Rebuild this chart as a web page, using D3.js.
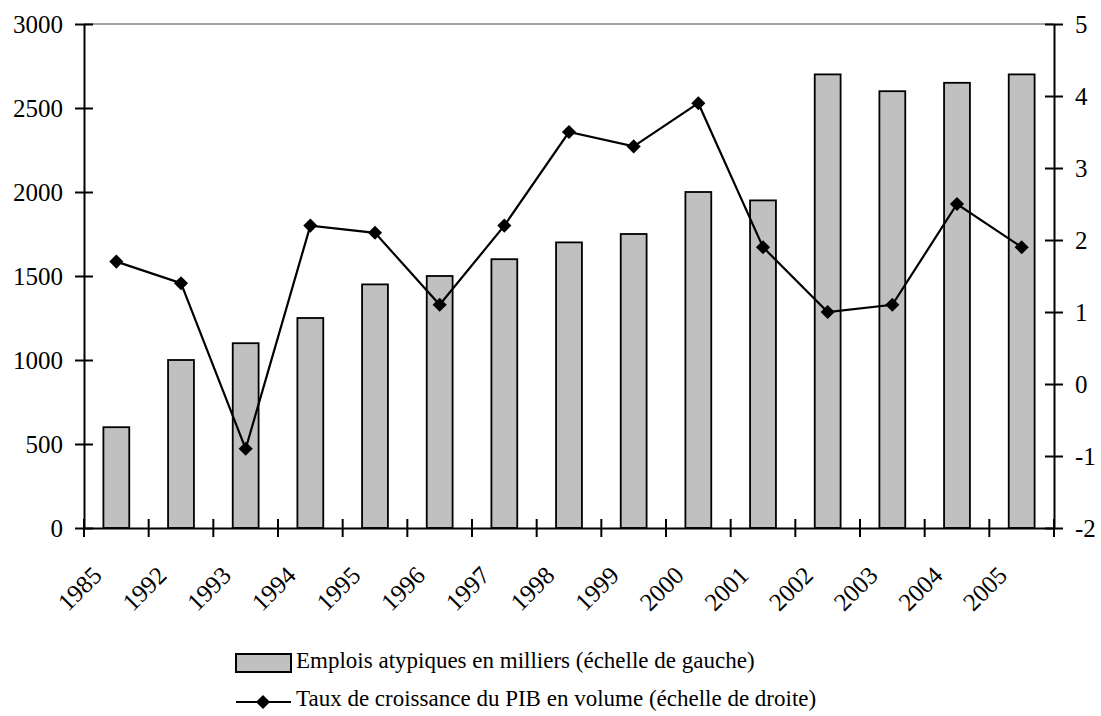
<!DOCTYPE html>
<html>
<head>
<meta charset="utf-8">
<script src="https://cdn.jsdelivr.net/npm/d3@7"></script>
<style>
  body { margin: 0; background: #fff; }
  text { font-family: "Liberation Serif", "Times New Roman", serif; fill: #000; }
</style>
</head>
<body>
<svg id="chart"></svg>
<script>
// years on the x axis
var years = ["1985", "1992", "1993", "1994", "1995", "1996", "1997", "1998",
             "1999", "2000", "2001", "2002", "2003", "2004", "2005"];
// emplois atypiques (milliers) - left scale
var emplois = [600, 1000, 1100, 1250, 1450, 1500, 1600, 1700,
               1750, 2000, 1950, 2700, 2600, 2650, 2700];
// croissance du PIB (%) - right scale
var pib = [1.7, 1.4, -0.9, 2.2, 2.1, 1.1, 2.2, 3.5,
           3.3, 3.9, 1.9, 1.0, 1.1, 2.5, 1.9];
var leftTicks = [0, 500, 1000, 1500, 2000, 2500, 3000];
var rightTicks = [-2, -1, 0, 1, 2, 3, 4, 5];
var legendLabels = ["Emplois atypiques en milliers (échelle de gauche)",
                    "Taux de croissance du PIB en volume (échelle de droite)"];

var w = 1101, h = 716;
var plotLeft = 84, plotRight = 1054, plotTop = 24, plotBottom = 528;

var svg = d3.select("#chart").attr("width", w).attr("height", h);
svg.append("rect").attr("width", w).attr("height", h).attr("fill", "#fff");

var x = d3.scaleBand().domain(years).range([plotLeft, plotRight])
    .paddingInner(0.6).paddingOuter(0.3);
var yLeft = d3.scaleLinear().domain([0, 3000]).range([plotBottom, plotTop]);
var yRight = d3.scaleLinear().domain([-2, 5]).range([plotBottom, plotTop]);

// top line (gridline at 3000)
svg.append("line")
    .attr("x1", plotLeft).attr("x2", plotRight)
    .attr("y1", yLeft(3000)).attr("y2", yLeft(3000))
    .attr("stroke", "#808080").attr("stroke-width", 1.5);

// bars
svg.append("g").selectAll("rect")
    .data(emplois)
    .join("rect")
    .attr("x", (d, i) => x(years[i]))
    .attr("width", x.bandwidth())
    .attr("y", d => yLeft(d))
    .attr("height", d => yLeft(0) - yLeft(d))
    .attr("fill", "#c0c0c0")
    .attr("stroke", "#000")
    .attr("stroke-width", 1.8);

// left axis
var gLeft = svg.append("g")
    .attr("transform", "translate(" + plotLeft + ",0)")
    .call(d3.axisLeft(yLeft).tickValues(leftTicks).tickSizeOuter(0).tickSizeInner(9).tickPadding(12)
        .tickFormat(d => String(d)));
styleAxis(gLeft, 25);
gLeft.selectAll(".tick line").attr("x1", 9).attr("x2", -9);

// right axis
var gRight = svg.append("g")
    .attr("transform", "translate(" + plotRight + ",0)")
    .call(d3.axisRight(yRight).tickValues(rightTicks).tickSizeOuter(0).tickSizeInner(9).tickPadding(12)
        .tickFormat(d => String(d)));
styleAxis(gRight, 25);
gRight.selectAll(".tick line").attr("x1", -9).attr("x2", 9);

// bottom axis: labels at band centers, ticks at band boundaries
var gBottom = svg.append("g")
    .attr("transform", "translate(0," + plotBottom + ")")
    .call(d3.axisBottom(x).tickSize(0).tickSizeOuter(0));
styleAxis(gBottom, 25);
gBottom.selectAll(".tick text")
    .attr("text-anchor", "end")
    .attr("y", 0).attr("dy", 0)
    .attr("transform", "translate(-13,49) rotate(-45)");

var boundaries = years.map(d => x(d) - x.step() * 0.3).concat([plotRight]);
gBottom.selectAll(".bound")
    .data(boundaries)
    .join("line")
    .attr("x1", d => d).attr("x2", d => d)
    .attr("y1", -9).attr("y2", 9)
    .attr("stroke", "#000").attr("stroke-width", 2);

function styleAxis(g, size) {
    g.attr("font-size", size).attr("font-family", "Liberation Serif");
    g.select(".domain").attr("stroke", "#000").attr("stroke-width", 2);
    g.selectAll(".tick line").attr("stroke", "#000").attr("stroke-width", 2);
    g.selectAll(".tick text")
        .style("font-size", size + "px")
        .attr("fill", "#000");
}

// line
var line = d3.line()
    .x((d, i) => x(years[i]) + x.bandwidth() / 2)
    .y(d => yRight(d));

svg.append("path")
    .datum(pib)
    .attr("d", line)
    .attr("fill", "none")
    .attr("stroke", "#000")
    .attr("stroke-width", 2.2);

var diamond = d3.symbol().type(d3.symbolSquare).size(100);
svg.append("g").selectAll("path")
    .data(pib)
    .join("path")
    .attr("d", diamond)
    .attr("transform", (d, i) => "translate(" + (x(years[i]) + x.bandwidth() / 2) + "," + yRight(d) + ") rotate(45)")
    .attr("fill", "#000");

// legend
var legend = svg.append("g");
legend.append("rect")
    .attr("x", 236).attr("y", 654)
    .attr("width", 55).attr("height", 18)
    .attr("fill", "#c0c0c0").attr("stroke", "#000").attr("stroke-width", 2);
legend.append("line")
    .attr("x1", 236).attr("x2", 291)
    .attr("y1", 702).attr("y2", 702)
    .attr("stroke", "#000").attr("stroke-width", 2.2);
legend.append("path")
    .attr("d", diamond)
    .attr("transform", "translate(263,702) rotate(45)")
    .attr("fill", "#000");
legend.selectAll("text")
    .data(legendLabels)
    .join("text")
    .attr("x", 296)
    .attr("y", (d, i) => 668 + i * 38)
    .style("font-size", "23px")
    .text(d => d);
</script>
</body>
</html>
